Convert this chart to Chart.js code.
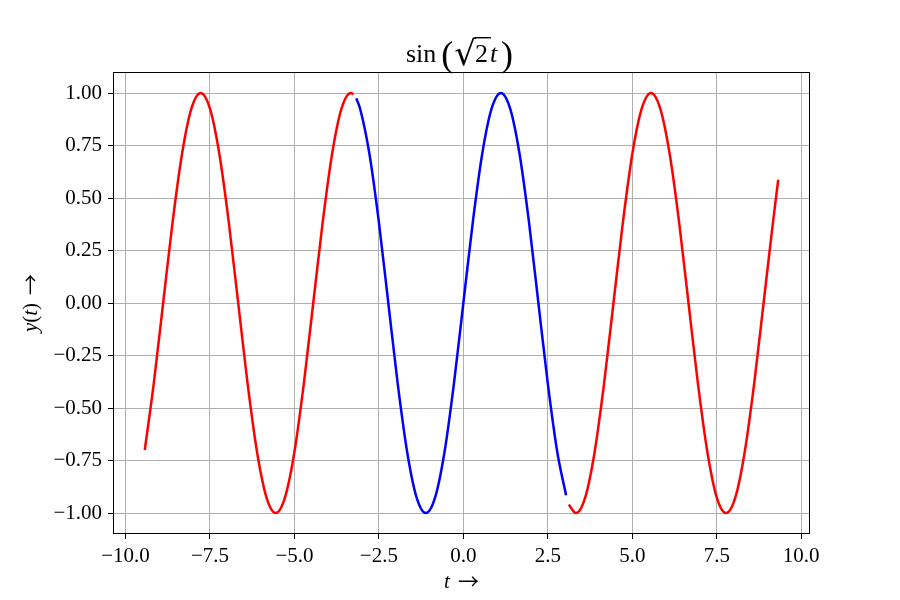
<!DOCTYPE html>
<html>
<head>
<meta charset="utf-8">
<script src="https://cdn.jsdelivr.net/npm/chart.js@4.4.1/dist/chart.umd.min.js"></script>
<style>html,body{margin:0;padding:0;background:#fff}</style>
</head>
<body>
<canvas id="chart" width="900" height="600"></canvas>
<script>
// values: y = sin(sqrt(2) t), red outside [-pi, pi], blue inside
var redLeftT = [-9.43, -9.163, -8.886, -8.608, -8.330, -8.053, -7.775, -7.497, -7.220, -6.942, -6.664, -6.387,
    -6.109, -5.831, -5.554, -5.276, -4.998, -4.721, -4.443, -4.165, -3.888, -3.610, -3.332, -3.25];
var redLeftY = [-0.70, -0.383, 0, 0.383, 0.707, 0.924, 1, 0.924, 0.707, 0.383, 0, -0.383,
    -0.707, -0.924, -1, -0.924, -0.707, -0.383, 0, 0.383, 0.707, 0.924, 1, 0.994];

var blueT = [-3.17, -3.054, -2.777, -2.499, -2.221, -1.944, -1.666, -1.388, -1.111, -0.833, -0.555, -0.278,
    0, 0.278, 0.555, 0.833, 1.111, 1.388, 1.666, 1.944, 2.221, 2.499, 2.777, 3.04];
var blueY = [0.975, 0.924, 0.707, 0.383, 0, -0.383, -0.707, -0.924, -1, -0.924, -0.707, -0.383,
    0, 0.383, 0.707, 0.924, 1, 0.924, 0.707, 0.383, 0, -0.383, -0.707, -0.915];

var redRightT = [3.12, 3.332, 3.610, 3.888, 4.165, 4.443, 4.721, 4.998, 5.276, 5.554, 5.831, 6.109,
    6.387, 6.664, 6.942, 7.220, 7.497, 7.775, 8.053, 8.330, 8.608, 8.886, 9.163, 9.32];
var redRightY = [-0.96, -1, -0.924, -0.707, -0.383, 0, 0.383, 0.707, 0.924, 1, 0.924, 0.707,
    0.383, 0, -0.383, -0.707, -0.924, -1, -0.924, -0.707, -0.383, 0, 0.383, 0.587];

var xTicks = [-10, -7.5, -5, -2.5, 0, 2.5, 5, 7.5, 10];
var yTicks = [-1, -0.75, -0.5, -0.25, 0, 0.25, 0.5, 0.75, 1];

var SERIF = "'Liberation Serif', 'DejaVu Serif', serif";
var ARROW = "'Noto Sans CJK JP', 'DejaVu Sans', sans-serif";

function pts(ts, ys) {
    return ts.map(function (t, i) { return {x: t, y: ys[i]}; });
}
function fmt(v, d) {
    return Number(v).toFixed(d).replace("-", "\u2212");
}

// draws a row of text pieces with their own fonts, centred on cx
function drawRuns(ctx, runs, cx, y) {
    var total = 0;
    runs.forEach(function (r) { ctx.font = r.font; r.w = ctx.measureText(r.text).width + (r.gap || 0); total += r.w; });
    var x = cx - total / 2;
    ctx.textAlign = "left";
    ctx.textBaseline = "alphabetic";
    runs.forEach(function (r) {
        ctx.font = r.font;
        ctx.fillText(r.text, x, y + (r.dy || 0));
        r.x = x;
        x += r.w;
    });
    return runs;
}

var decorations = {
    id: "decorations",
    afterDraw: function (chart) {
        var ctx = chart.ctx, ca = chart.chartArea;
        ctx.save();
        ctx.strokeStyle = "#000";
        ctx.lineWidth = 1;
        ctx.strokeRect(Math.round(ca.left) + 0.5, Math.round(ca.top) + 0.5,
            Math.round(ca.width) - 1, Math.round(ca.height) - 1);

        // title: sin(sqrt(2) t)
        ctx.fillStyle = "#000";
        var roman = "26px " + SERIF, italic = "italic 26px " + SERIF;
        var radFont = "34px 'DejaVu Serif', serif";
        ctx.font = radFont;
        var rad = ctx.measureText("\u221A");
        var radBase = 37 + rad.actualBoundingBoxAscent;
        var runs = drawRuns(ctx, [
            {text: "sin", font: roman, gap: 5},
            {text: "(", font: "36px " + SERIF, dy: 4, gap: 1},
            {text: "\u221A", font: radFont, dy: radBase - 62, gap: -1},
            {text: "2", font: roman, gap: 2},
            {text: "t", font: italic, gap: 4},
            {text: ")", font: "36px " + SERIF, dy: 4}
        ], (ca.left + ca.right) / 2 - 2, 62);
        var barL = runs[2].x + rad.actualBoundingBoxRight - 1.5;
        ctx.beginPath();
        ctx.lineWidth = 1.4;
        ctx.moveTo(barL, 37.7);
        ctx.lineTo(runs[3].x + runs[3].w + 1, 37.7);
        ctx.stroke();

        var lab = "21px " + SERIF, labI = "italic 21px " + SERIF, arr = "21px " + ARROW;
        drawRuns(ctx, [
            {text: "t", font: labI, gap: 8},
            {text: "\u2192", font: arr, dy: 1}
        ], (ca.left + ca.right) / 2, 588);

        ctx.translate(37, (ca.top + ca.bottom) / 2);
        ctx.rotate(-Math.PI / 2);
        drawRuns(ctx, [
            {text: "y", font: labI},
            {text: "(", font: lab},
            {text: "t", font: labI},
            {text: ")", font: lab, gap: 8},
            {text: "\u2192", font: arr, dy: 1}
        ], 0, 0);
        ctx.restore();
    }
};

var ctx = document.getElementById("chart");
var sineChart = new Chart(ctx, {
    type: "line",
    data: {
        datasets: [{
            data: pts(redLeftT, redLeftY),
            borderColor: "#ff0000"
        }, {
            data: pts(blueT, blueY),
            borderColor: "#0000ff"
        }, {
            data: pts(redRightT, redRightY),
            borderColor: "#ff0000"
        }]
    },
    options: {
        responsive: false,
        animation: false,
        devicePixelRatio: 1,
        layout: {padding: {top: 72, right: 90, left: 0, bottom: 0}},
        elements: {
            point: {radius: 0},
            line: {borderWidth: 2.5, cubicInterpolationMode: "monotone", fill: false}
        },
        plugins: {legend: {display: false}, tooltip: {enabled: false}},
        scales: {
            x: {
                type: "linear",
                min: -10.37,
                max: 10.26,
                afterBuildTicks: function (s) { s.ticks = xTicks.map(function (v) { return {value: v}; }); },
                afterFit: function (s) { s.height = 66; },
                grid: {color: "#b0b0b0", lineWidth: 1, tickColor: "#000", tickLength: 5},
                border: {display: false},
                ticks: {
                    padding: 5, color: "#000", maxRotation: 0, autoSkip: false,
                    font: {family: SERIF, size: 21},
                    callback: function (v) { return fmt(v, 1); }
                }
            },
            y: {
                type: "linear",
                min: -1.1,
                max: 1.1,
                afterBuildTicks: function (s) { s.ticks = yTicks.map(function (v) { return {value: v}; }); },
                afterFit: function (s) { s.width = 113; },
                grid: {color: "#b0b0b0", lineWidth: 1, tickColor: "#000", tickLength: 5},
                border: {display: false},
                ticks: {
                    padding: 6, color: "#000", autoSkip: false,
                    font: {family: SERIF, size: 21},
                    callback: function (v) { return fmt(v, 2); }
                }
            }
        }
    },
    plugins: [decorations]
});
</script>
</body>
</html>
